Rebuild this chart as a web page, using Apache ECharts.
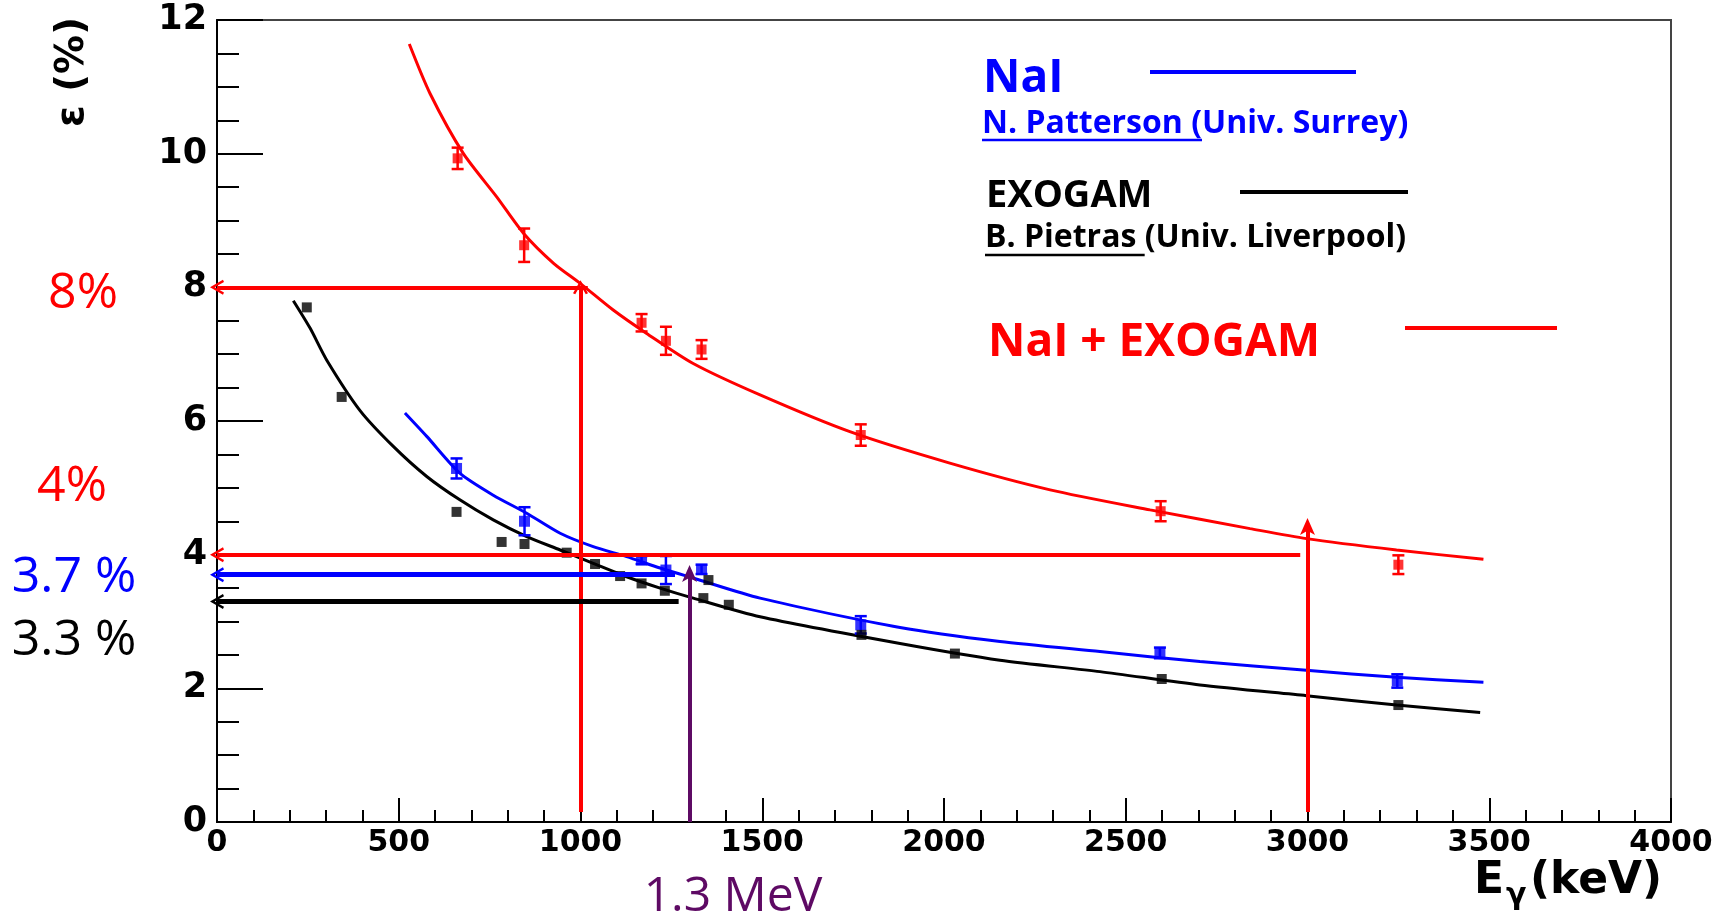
<!DOCTYPE html>
<html>
<head>
<meta charset="utf-8">
<title>Photopeak efficiency</title>
<script src="https://cdn.jsdelivr.net/npm/echarts@6/dist/echarts.min.js"></script>
<style>
  html, body { margin: 0; padding: 0; background: #ffffff; }
  #chart { width: 1729px; height: 920px; }
</style>
</head>
<body>
<div id="chart"></div>
<script>
// Fitted efficiency curves: gamma energy (keV) and efficiency (%)
const fitSumKeV = [529, 586, 678, 770, 843, 926, 999, 1090, 1182, 1310, 1494, 1741, 2016, 2292, 2567, 2842, 2997, 3245, 3484];
const fitSumEff = [11.64, 10.90, 10.00, 9.35, 8.81, 8.36, 8.06, 7.66, 7.31, 6.86, 6.39, 5.84, 5.37, 4.97, 4.67, 4.39, 4.24, 4.07, 3.93];

const fitNaIKeV = [517, 577, 668, 760, 852, 944, 1035, 1127, 1219, 1310, 1494, 1879, 2154, 2429, 2704, 2997, 3245, 3484];
const fitNaIEff = [6.12, 5.77, 5.22, 4.89, 4.62, 4.32, 4.12, 3.97, 3.80, 3.65, 3.35, 2.91, 2.70, 2.55, 2.40, 2.27, 2.165, 2.09];

const fitExoKeV = [210, 256, 302, 393, 485, 577, 668, 760, 852, 944, 1035, 1127, 1219, 1310, 1494, 1879, 2154, 2429, 2704, 2997, 3245, 3475];
const fitExoEff = [7.80, 7.39, 6.91, 6.16, 5.62, 5.17, 4.82, 4.52, 4.27, 4.07, 3.87, 3.67, 3.50, 3.35, 3.07, 2.67, 2.42, 2.25, 2.05, 1.89, 1.75, 1.64];

// Measured points with their uncertainties
const ptSumKeV = [662, 845, 1168, 1235, 1333, 1771, 2596, 3250];
const ptSumEff = [9.93, 8.63, 7.47, 7.20, 7.07, 5.79, 4.65, 3.85];
const ptSumErr = [0.16, 0.25, 0.13, 0.21, 0.14, 0.16, 0.15, 0.14];

const ptNaIKeV = [659, 846, 1168, 1235, 1333, 1771, 2594, 3247];
const ptNaIEff = [5.29, 4.50, 3.92, 3.77, 3.78, 2.95, 2.53, 2.11];
const ptNaIErr = [0.15, 0.21, 0.06, 0.21, 0.07, 0.13, 0.08, 0.10];

const ptExoKeV = [247, 343, 659, 783, 846, 962, 1040, 1109, 1168, 1232, 1338, 1352, 1408, 1773, 2030, 2599, 3250];
const ptExoEff = [7.70, 6.36, 4.64, 4.19, 4.16, 4.03, 3.86, 3.68, 3.57, 3.46, 3.35, 3.62, 3.25, 2.80, 2.52, 2.14, 1.75];

// Read-off guides: energies (keV) and efficiency levels (%)
const readKeV = [1000, 3000, 1300];
const readSumEff = [8, 4];
const readNaIEff = 3.7;
const readExoEff = 3.3;

// Axis ticks
const xTicks = { min: 0, max: 4000, step: 500 };
const yTicks = { min: 0, max: 12, step: 2 };

const RED = '#ff0000', BLUE = '#0000ff', BLACK = '#000000', PURPLE = '#5e0a64';

const zip = (xs, ys, es) => xs.map((x, i) => es ? [x, ys[i], es[i]] : [x, ys[i]]);

// Open chevron head and filled stealth head (both point "up" in their own frame)
const CHEVRON = 'path://M5,0L10,10L8.5,10.8L5,3.6L1.5,10.8L0,10Z';
const STEALTH = 'path://M5,0L10,12L5,9L0,12Z';

function guide(from, to, color, width, head, headSize) {
  return [
    { coord: from, symbol: 'none', lineStyle: { color: color, width: width, type: 'solid' } },
    { coord: to, symbol: head, symbolSize: headSize }
  ];
}

function errorBars(color, capHalf) {
  return function (params, api) {
    const x = api.value(0), y = api.value(1), e = api.value(2);
    const hi = api.coord([x, y + e]);
    const lo = api.coord([x, y - e]);
    const st = { stroke: color, lineWidth: 2.5 };
    return {
      type: 'group',
      children: [
        { type: 'line', shape: { x1: hi[0], y1: hi[1], x2: lo[0], y2: lo[1] }, style: st },
        { type: 'line', shape: { x1: hi[0] - capHalf, y1: hi[1], x2: hi[0] + capHalf, y2: hi[1] }, style: st },
        { type: 'line', shape: { x1: lo[0] - capHalf, y1: lo[1], x2: lo[0] + capHalf, y2: lo[1] }, style: st }
      ]
    };
  };
}

function text(x, y, str, size, color, opts) {
  opts = opts || {};
  return {
    type: 'text', x: x, y: y, silent: true, rotation: opts.rotation || 0,
    style: {
      text: str, fontSize: size, fontWeight: opts.weight || 'bold',
      fontFamily: opts.family || 'Open Sans', fill: color,
      align: opts.align || 'left', verticalAlign: opts.valign || 'middle'
    }
  };
}

function hline(x1, x2, y, color, w) {
  return { type: 'line', silent: true, shape: { x1: x1, y1: y, x2: x2, y2: y }, style: { stroke: color, lineWidth: w } };
}

// width of the underlined part of a credit line
const measureCtx = document.createElement('canvas').getContext('2d');
function textWidth(str, size) {
  measureCtx.font = 'bold ' + size + 'px "Open Sans"';
  return measureCtx.measureText(str).width;
}

const creditSize = 32;
const surreyX = 982, liverpoolX = 985;

const chart = echarts.init(document.getElementById('chart'), null, { renderer: 'canvas' });

const axisFont = { fontFamily: 'DejaVu Sans', fontWeight: 'bold', color: '#000' };
const plainNumber = v => String(v);

function fitLine(name, xs, ys, color) {
  return { name: name, type: 'line', data: zip(xs, ys), smooth: 0.25, showSymbol: false,
    lineStyle: { color: color, width: 3 }, z: 2, silent: true };
}

chart.setOption({
  animation: false,
  backgroundColor: '#ffffff',
  grid: {
    left: 217, right: 58, top: 20, bottom: 98,
    show: true, borderColor: '#444', borderWidth: 2, backgroundColor: 'transparent',
    containLabel: false, outerBoundsMode: 'none'
  },
  xAxis: {
    type: 'value', min: xTicks.min, max: xTicks.max, interval: xTicks.step,
    axisLine: { show: true, onZero: false, lineStyle: { color: '#000', width: 2 } },
    axisTick: { show: true, inside: true, length: 24, lineStyle: { color: '#000', width: 2 } },
    minorTick: { show: true, splitNumber: 5, length: 12, lineStyle: { color: '#000', width: 2 } },
    splitLine: { show: false },
    axisLabel: Object.assign({ fontSize: 30, margin: 6, formatter: plainNumber }, axisFont)
  },
  yAxis: {
    type: 'value', min: yTicks.min, max: yTicks.max, interval: yTicks.step,
    axisLine: { show: true, onZero: false, lineStyle: { color: '#000', width: 2 } },
    axisTick: { show: true, inside: true, length: 46, lineStyle: { color: '#000', width: 2 } },
    minorTick: { show: true, splitNumber: 4, length: 22, lineStyle: { color: '#000', width: 2 } },
    splitLine: { show: false },
    axisLabel: Object.assign({ fontSize: 35, margin: 10, formatter: plainNumber }, axisFont)
  },
  series: [
    // fitted curves
    fitLine('NaI + EXOGAM fit', fitSumKeV, fitSumEff, RED),
    fitLine('NaI fit', fitNaIKeV, fitNaIEff, BLUE),
    fitLine('EXOGAM fit', fitExoKeV, fitExoEff, BLACK),
    // error bars
    { name: 'NaI + EXOGAM errors', type: 'custom', data: zip(ptSumKeV, ptSumEff, ptSumErr),
      renderItem: errorBars(RED, 6), z: 3, silent: true },
    { name: 'NaI errors', type: 'custom', data: zip(ptNaIKeV, ptNaIEff, ptNaIErr),
      renderItem: errorBars(BLUE, 6), z: 3, silent: true },
    // measured points
    { name: 'NaI + EXOGAM', type: 'scatter', data: zip(ptSumKeV, ptSumEff), symbol: 'rect', symbolSize: 10,
      itemStyle: { color: RED }, z: 4, silent: true },
    { name: 'NaI', type: 'scatter', data: zip(ptNaIKeV, ptNaIEff), symbol: 'rect', symbolSize: 11,
      itemStyle: { color: BLUE }, z: 4, silent: true },
    { name: 'EXOGAM', type: 'scatter', data: zip(ptExoKeV, ptExoEff), symbol: 'rect', symbolSize: 10,
      itemStyle: { color: BLACK }, z: 4, silent: true },
    // read-off arrows
    {
      name: 'guides', type: 'line', data: [], z: 6, silent: true,
      markLine: {
        silent: true, animation: false, label: { show: false }, precision: 4,
        emphasis: { disabled: true },
        data: [
          guide([readKeV[0], 0.15], [readKeV[0], readSumEff[0]], RED, 4, CHEVRON, [15, 14]),
          guide([readKeV[0] + 20, readSumEff[0]], [0, readSumEff[0]], RED, 4, CHEVRON, [15, 14]),
          guide([readKeV[1], 0.15], [readKeV[1], 4.42], RED, 4, STEALTH, [15, 17]),
          guide([readKeV[1] - 20, readSumEff[1]], [0, readSumEff[1]], RED, 4, CHEVRON, [15, 14]),
          guide([1260, readNaIEff], [0, readNaIEff], BLUE, 5, CHEVRON, [15, 14]),
          guide([1270, readExoEff], [0, readExoEff], BLACK, 5, CHEVRON, [15, 14]),
          guide([readKeV[2], 0], [readKeV[2], 3.72], PURPLE, 4, STEALTH, [15, 17])
        ]
      }
    }
  ],
  graphic: {
    elements: [
      // axis titles
      text(73, 72, 'ε (%)', 39, '#000', { family: 'DejaVu Sans', align: 'center', rotation: Math.PI / 2 }),
      text(1474, 882, 'E', 44, '#000', { family: 'DejaVu Sans' }),
      text(1506, 896, 'γ', 30, '#000', { family: 'DejaVu Sans' }),
      text(1530, 882, '(keV)', 44, '#000', { family: 'DejaVu Sans' }),

      // legend block
      text(983, 79, 'NaI', 46, BLUE),
      hline(1150, 1356, 72, BLUE, 4),
      text(surreyX, 124, 'N. Patterson (Univ. Surrey)', creditSize, BLUE),
      hline(surreyX, surreyX + textWidth('N. Patterson (', creditSize), 140, BLUE, 2.5),
      text(986, 196, 'EXOGAM', 38, BLACK),
      hline(1240, 1408, 192, BLACK, 4),
      text(liverpoolX, 238, 'B. Pietras (Univ. Liverpool)', creditSize, BLACK),
      hline(liverpoolX, liverpoolX + textWidth('B. Pietras ', creditSize), 255, BLACK, 2.5),
      text(988, 343, 'NaI + EXOGAM', 46, RED),
      hline(1405, 1557, 328, RED, 4),

      // read-off values
      text(83, 294, '8%', 50, RED, { weight: 'normal', align: 'center' }),
      text(72, 487, '4%', 50, RED, { weight: 'normal', align: 'center' }),
      text(74, 578, '3.7 %', 50, BLUE, { weight: 'normal', align: 'center' }),
      text(74, 641, '3.3 %', 50, BLACK, { weight: 'normal', align: 'center' }),
      text(733, 897, '1.3 MeV', 48, PURPLE, { weight: 'normal', align: 'center' })
    ]
  }
});
</script>
</body>
</html>
